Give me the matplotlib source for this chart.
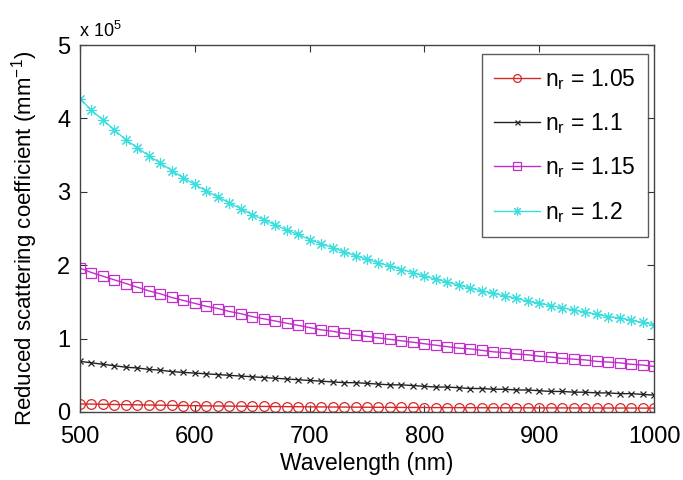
import matplotlib
matplotlib.use("Agg")
import matplotlib.pyplot as plt
import numpy as np

plt.rcParams['font.family'] = ['Liberation Sans', 'DejaVu Sans']
plt.rcParams['mathtext.fontset'] = 'custom'
plt.rcParams['mathtext.rm'] = 'Liberation Sans'
plt.rcParams['mathtext.it'] = 'Liberation Sans:italic'

wavelength = list(range(500, 1001, 10))

# values in units of 1e5 mm^-1
nr_120 = [4.27, 4.11, 3.98, 3.84, 3.71, 3.60, 3.49, 3.39, 3.29, 3.19,
          3.10, 3.01, 2.93, 2.85, 2.77, 2.69, 2.62, 2.55, 2.48, 2.42,
          2.35, 2.29, 2.24, 2.18, 2.13, 2.08, 2.03, 1.99, 1.94, 1.90,
          1.85, 1.81, 1.77, 1.73, 1.69, 1.65, 1.62, 1.58, 1.55, 1.51,
          1.48, 1.45, 1.42, 1.39, 1.36, 1.33, 1.30, 1.28, 1.25, 1.22, 1.19]
nr_115 = [1.96, 1.90, 1.85, 1.80, 1.75, 1.70, 1.65, 1.61, 1.56, 1.52,
          1.48, 1.44, 1.41, 1.37, 1.34, 1.30, 1.27, 1.24, 1.21, 1.18,
          1.15, 1.12, 1.10, 1.07, 1.05, 1.03, 1.01, 0.99, 0.97, 0.95,
          0.93, 0.91, 0.89, 0.87, 0.86, 0.84, 0.82, 0.81, 0.79, 0.78,
          0.76, 0.75, 0.73, 0.72, 0.71, 0.69, 0.68, 0.67, 0.65, 0.64, 0.62]
nr_110 = [0.69, 0.67, 0.65, 0.63, 0.61, 0.60, 0.58, 0.57, 0.55, 0.54,
          0.53, 0.52, 0.51, 0.50, 0.49, 0.48, 0.47, 0.46, 0.45, 0.44,
          0.43, 0.42, 0.41, 0.40, 0.40, 0.39, 0.38, 0.37, 0.37, 0.36,
          0.35, 0.34, 0.34, 0.33, 0.32, 0.32, 0.31, 0.31, 0.30, 0.30,
          0.29, 0.28, 0.28, 0.27, 0.27, 0.26, 0.26, 0.25, 0.25, 0.24, 0.23]
nr_105 = [0.110, 0.108, 0.105, 0.102, 0.100, 0.098, 0.095, 0.093, 0.090, 0.088,
          0.086, 0.084, 0.082, 0.080, 0.079, 0.077, 0.076, 0.074, 0.073, 0.072,
          0.070, 0.069, 0.068, 0.067, 0.066, 0.065, 0.064, 0.063, 0.062, 0.062,
          0.061, 0.060, 0.060, 0.059, 0.059, 0.058, 0.058, 0.057, 0.057, 0.057,
          0.056, 0.056, 0.056, 0.055, 0.055, 0.055, 0.054, 0.054, 0.054, 0.053, 0.053]

labels = [r'$\mathregular{n_r}$ = 1.05', r'$\mathregular{n_r}$ = 1.1',
          r'$\mathregular{n_r}$ = 1.15', r'$\mathregular{n_r}$ = 1.2']
xticks = [500, 600, 700, 800, 900, 1000]
yticks = [0, 1, 2, 3, 4, 5]

fig = plt.figure(figsize=(6.83, 4.8), dpi=100)
ax = fig.add_axes([80/683, 1-412/480, (654-80)/683, (412-45)/480])

ax.plot(wavelength, nr_105, color='#d42a2a', lw=1.0, marker='o', ms=7,
        mfc='none', mew=0.9, label=labels[0])
ax.plot(wavelength, nr_110, color='#222222', lw=1.0, marker='x', ms=4.5,
        mew=0.9, label=labels[1])
ax.plot(wavelength, nr_115, color='#c030c8', lw=1.0, marker='s', ms=7,
        mfc='none', mew=0.9, label=labels[2])
ax.plot(wavelength, nr_120, color='#3adede', lw=1.0, marker=(8, 2, 0), ms=8,
        mew=0.8, label=labels[3])

ax.set_xlim(500, 1000)
ax.set_ylim(0, 5)
ax.set_xticks(xticks)
ax.set_yticks(yticks)
ax.set_xticklabels([str(t) for t in xticks])
ax.set_yticklabels([str(t) for t in yticks])
ax.tick_params(direction='in', top=True, right=True, length=5, width=0.8,
               labelsize=17, colors='#333333', labelcolor='black')
ax.tick_params(axis='x', pad=10)
ax.tick_params(axis='y', pad=7)
for s in ax.spines.values():
    s.set_color('#444444')
    s.set_linewidth(1.0)

ax.set_xlabel('Wavelength (nm)', fontsize=16.5, labelpad=3)
ax.set_ylabel(r'Reduced scattering coefficient (mm$^{\mathregular{-1}}$)',
              fontsize=16, va='center')
ax.yaxis.set_label_coords(-0.096, 0.474)

fig.text(79/683, 1-37/480, r'x 10$^{\mathregular{5}}$', fontsize=13,
         ha='left', va='baseline')

leg = ax.legend(loc='upper right', bbox_to_anchor=(648/683, 1-54/480),
                bbox_transform=fig.transFigure, fontsize=16.5,
                frameon=True, fancybox=False, edgecolor='#333333',
                handlelength=2.0, handletextpad=0.2, labelspacing=0.85,
                borderpad=0.55, borderaxespad=0, markerscale=0.8,
                numpoints=1)
leg.get_frame().set_linewidth(1.0)

fig.savefig('out.png', dpi=100)
